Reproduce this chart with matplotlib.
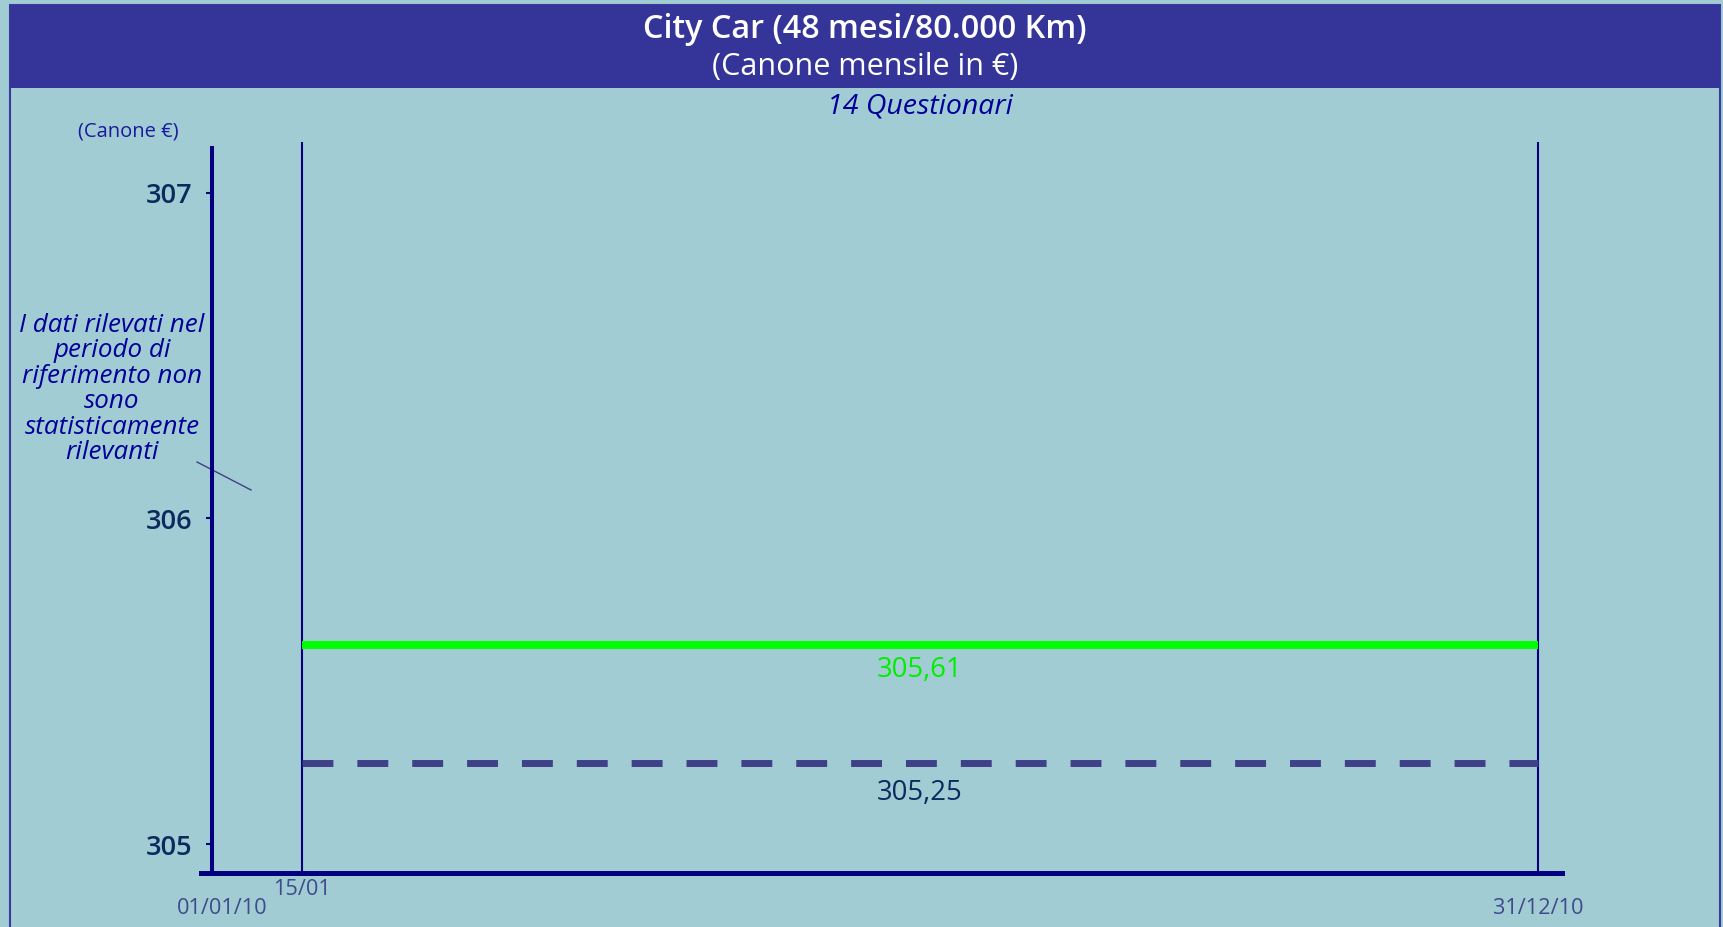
import pandas as pd
import matplotlib.pyplot as plt
from matplotlib.patches import Rectangle

# colours
BG = '#A2CCD3'
HEADER = '#353599'
NAVY = '#000080'
DARK = '#0B2A5E'
SLATE = '#404A8C'

# data
origin_date = '2010-01-01'
start_date = '2010-01-15'
end_date = '2010-12-31'
date_labels = ['01/01/10', '15/01', '31/12/10']
yticks = [305, 306, 307]
media_value = 305.61      # solid green
riferimento_value = 305.25  # dashed
n_questionari = 14

title_1 = 'City Car (48 mesi/80.000 Km)'
title_2 = '(Canone mensile in €)'
note = 'I dati rilevati nel\nperiodo di\nriferimento non\nsono\nstatisticamente\nrilevanti'


def day(d):
    return (pd.Timestamp(d) - pd.Timestamp(origin_date)).days


x0, x1 = day(start_date), day(end_date)

plt.rcParams['font.family'] = ['Open Sans', 'Noto Sans', 'DejaVu Sans']

W, H = 1724, 927
fig = plt.figure(figsize=(W / 100, H / 100), dpi=100, facecolor=BG)

# header band + frame
fig.patches.append(Rectangle((10 / W, -0.01), 1710 / W, 1 - 5 / H + 0.01, transform=fig.transFigure,
                             fill=False, edgecolor='#3A3AA0', lw=1.5))
fig.patches.append(Rectangle((10 / W, 1 - 88 / H), 1710 / W, 83 / H, transform=fig.transFigure,
                             facecolor=HEADER, edgecolor='none'))
fig.text(865 / W, 1 - 29 / H, title_1, color='white', fontsize=23.3, fontweight='semibold',
         ha='center', va='center')
fig.text(865 / W, 1 - 67 / H, title_2, color='white', fontsize=22, ha='center', va='center')
fig.text(920 / W, 1 - 107 / H, f'{n_questionari} Questionari', color='#000099', fontsize=20.5,
         style='italic', ha='center', va='center')
fig.text(128 / W, 1 - 131 / H, '(Canone €)', color='#1A1A9A', fontsize=14.5, ha='center', va='center')

ax = fig.add_axes([212 / W, 1 - 873 / H, 1350 / W, 725 / H])
ax.set_facecolor('none')
ax.set_xlim(-11.5, 370.8)
ax.set_ylim(304.911, 307.1376)

for s in ['top', 'right', 'bottom']:
    ax.spines[s].set_visible(False)
ax.spines['left'].set_color(NAVY)
ax.spines['left'].set_linewidth(2.9)

ax.set_yticks(yticks)
ax.set_yticklabels([str(v) for v in yticks], fontweight='semibold')
ax.tick_params(axis='y', direction='out', length=4, width=1.5, color=NAVY, pad=10,
               labelsize=19.5, labelcolor=DARK)
ax.set_xticks([])

# x axis line, slightly overshooting left of the y axis
ax.axhline(ax.get_ylim()[0], xmin=-11 / 1350, xmax=1, color=NAVY, lw=3.6, clip_on=False)

# period markers
for d in [x0, x1]:
    ax.axvline(d, ymin=0, ymax=1 + 5 / 725, color=NAVY, lw=1.5, clip_on=False)

ax.plot([x0, x1], [media_value] * 2, color='#00FF00', lw=5.8, solid_capstyle='butt')
ax.plot([x0, x1], [riferimento_value] * 2, color='#404088', lw=5, dashes=(4.45, 3.45),
        dash_capstyle='butt')

xm = (x0 + x1) / 2
ax.annotate(f'{media_value:.2f}'.replace('.', ','), (xm, media_value), xytext=(0, -18),
            textcoords='offset points', ha='center', va='center', color='#00EE00', fontsize=19.8)
ax.annotate(f'{riferimento_value:.2f}'.replace('.', ','), (xm, riferimento_value), xytext=(0, -22),
            textcoords='offset points', ha='center', va='center', color=DARK, fontsize=19.8)

# date labels
bt = ax.get_xaxis_transform()
ax.text(0.0074, -0.0483, date_labels[0], transform=ax.transAxes, ha='center', va='center',
        color=SLATE, fontsize=15.7)
ax.text(x0, -0.0234, date_labels[1], transform=bt, ha='center', va='center', color=SLATE, fontsize=15.7)
ax.text(x1, -0.0483, date_labels[2], transform=bt, ha='center', va='center', color=SLATE, fontsize=15.7)

# note with pointer
fig.text(112 / W, 1 - 389 / H, note, color='#000099', fontsize=18.7, style='italic',
         ha='center', va='center', multialignment='center', linespacing=1.03)
ax.plot([-0.0111, 0.0289], [0.5669, 0.5283], transform=ax.transAxes, color='#404088', lw=1,
        clip_on=False)

fig.savefig('out.png', dpi=100, facecolor=BG)
